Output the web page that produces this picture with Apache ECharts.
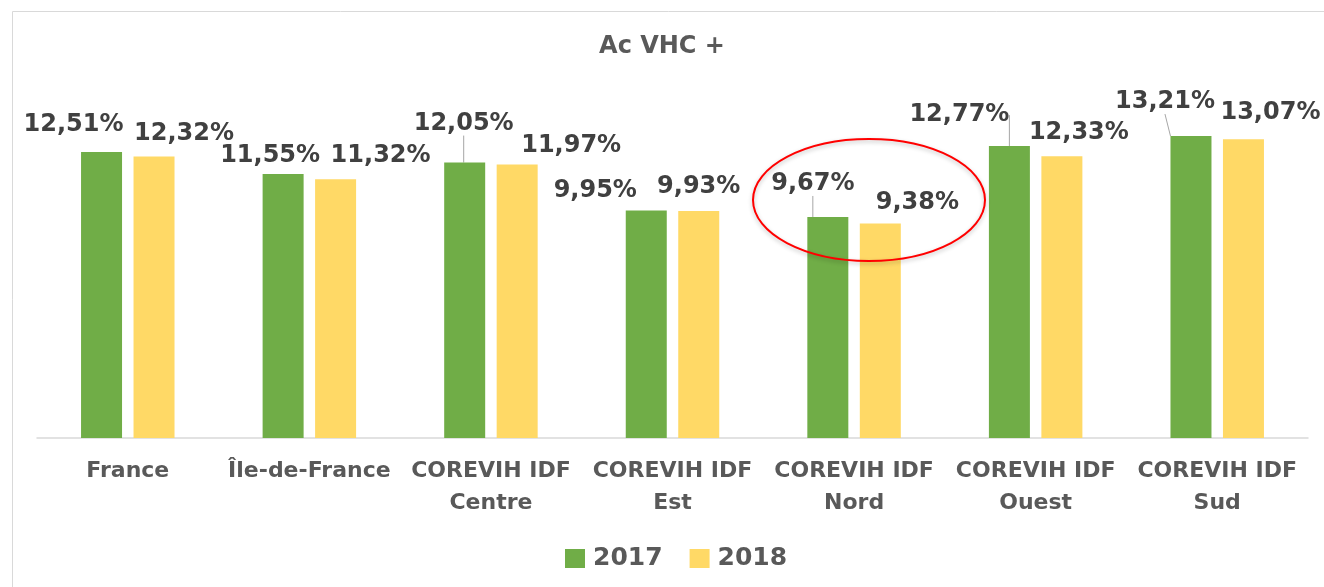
<!DOCTYPE html>
<html>
<head>
<meta charset="utf-8">
<script src="https://cdn.jsdelivr.net/npm/echarts@6/dist/echarts.min.js"></script>
<style>
	html, body { margin: 0; padding: 0; background: #fff; }
	#chart { width: 1324px; height: 587px; }
</style>
</head>
<body>
<div id="chart"></div>
<script>
// data
var categories = ['France', 'Île-de-France', 'COREVIH IDF\nCentre', 'COREVIH IDF\nEst', 'COREVIH IDF\nNord', 'COREVIH IDF\nOuest', 'COREVIH IDF\nSud'];
var seriesNames = ['2017', '2018'];
var values2017 = [12.51, 11.55, 12.05, 9.95, 9.67, 12.77, 13.21];
var values2018 = [12.32, 11.32, 11.97, 9.93, 9.38, 12.33, 13.07];

// where Excel had moved the labels (px), and which ones have a leader line
var shift2017 = [[-28, -10], [-13, -1], [-1, -22], [-51, -3], [-15, -16], [-50, -14], [-26, -17]];
var shift2018 = [[30, -6], [45, -6], [54, -2], [0, -7], [37, -4], [17, -6], [27, -9]];
var leader2017 = [false, false, true, false, true, true, true];

function fmt(v) {
	return v.toFixed(2).replace('.', ',') + '%';
}

function chart() {
	let myChart = echarts.init(document.getElementById('chart'));

	function items(vals, lines) {
		return vals.map(function(v, i) {
			return {
				value: v,
				labelLine: { show: !!(lines && lines[i]) }
			};
		});
	}

	function barSeries(name, vals, color, shifts, lines) {
		return {
			name: name,
			type: 'bar',
			barWidth: 41,
			barGap: '28%',
			itemStyle: { color: color },
			label: {
				show: true,
				position: 'top',
				distance: 5,
				formatter: function(p) { return fmt(p.value); },
				fontFamily: 'DejaVu Sans',
				fontWeight: 'bold',
				fontSize: 24,
				color: '#404040'
			},
			labelLine: {
				show: false,
				lineStyle: { color: '#a6a6a6', width: 1 }
			},
			labelLayout: function(p) {
				let s = shifts[p.dataIndex];
				return { dx: s[0], dy: s[1] };
			},
			data: items(vals, lines)
		};
	}

	option = {
		animation: false,
		title: {
			text: 'Ac VHC +',
			left: 'center',
			top: 30,
			textStyle: {
				fontFamily: 'DejaVu Sans',
				fontWeight: 'bold',
				fontSize: 24,
				color: '#595959'
			}
		},
		legend: {
			top: 541,
			left: 560,
			icon: 'rect',
			itemWidth: 20,
			itemHeight: 19,
			itemGap: 27,
			textStyle: {
				fontFamily: 'DejaVu Sans',
				fontWeight: 'bold',
				fontSize: 25,
				color: '#595959',
				padding: [0, 0, 0, 3]
			},
			data: seriesNames
		},
		grid: {
			left: 37,
			right: 16,
			top: 118,
			bottom: 149
		},
		xAxis: {
			type: 'category',
			data: categories,
			axisTick: { show: false },
			axisLine: { lineStyle: { color: '#d9d9d9', width: 1.5 } },
			axisLabel: {
				interval: 0,
				margin: 17,
				lineHeight: 32,
				fontFamily: 'DejaVu Sans',
				fontWeight: 'bold',
				fontSize: 22,
				color: '#595959'
			}
		},
		yAxis: {
			type: 'value',
			min: 0,
			max: 14,
			show: false,
			splitLine: { show: false }
		},
		graphic: [{
			type: 'rect',
			shape: { x: 12.5, y: 11.5, width: 1330, height: 600 },
			style: { fill: 'none', stroke: '#d9d9d9', lineWidth: 1 },
			silent: true
		}, {
			type: 'ellipse',
			shape: { cx: 869, cy: 200, rx: 116, ry: 61 },
			style: {
				fill: 'none',
				stroke: '#ff0000',
				lineWidth: 2,
				shadowBlur: 4,
				shadowColor: 'rgba(0,0,0,0.25)',
				shadowOffsetY: 2
			},
			z: 100,
			silent: true
		}],
		series: [
			barSeries(seriesNames[0], values2017, '#70ad47', shift2017, leader2017),
			barSeries(seriesNames[1], values2018, '#ffd966', shift2018, null)
		]
	};

	myChart.setOption(option);
	window.addEventListener('resize', function() {
		myChart.resize();
	})
}

chart();
</script>
</body>
</html>
